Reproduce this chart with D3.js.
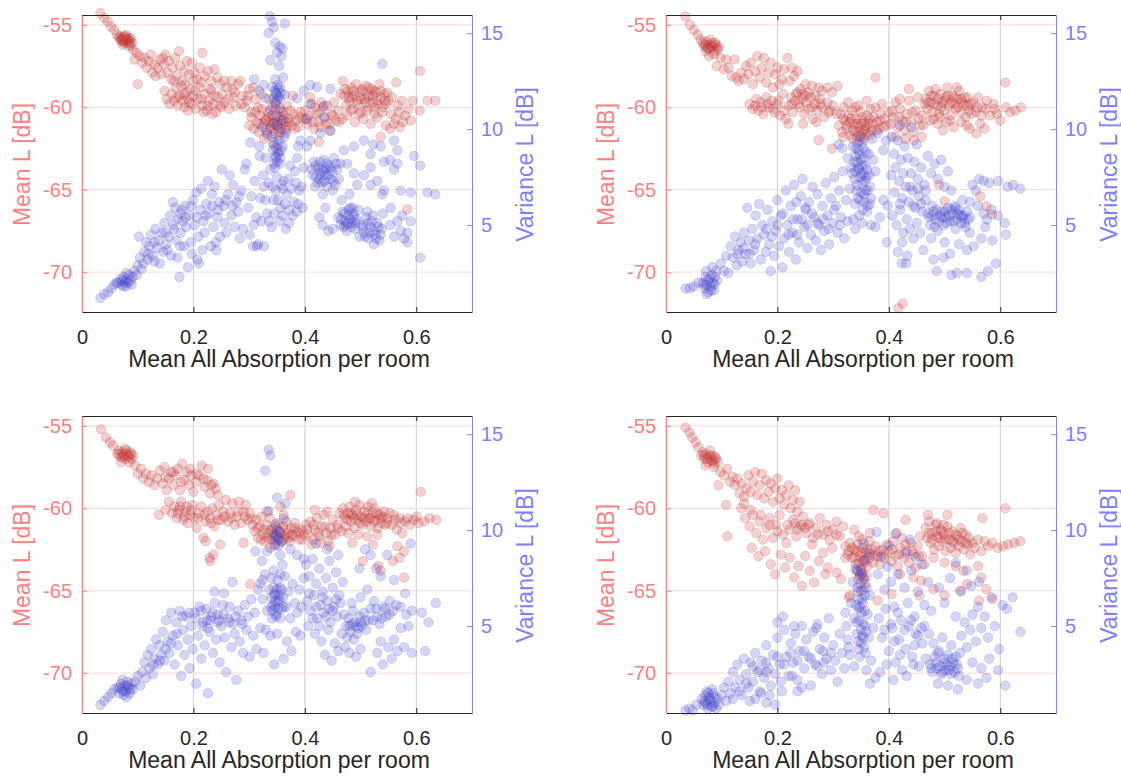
<!DOCTYPE html>
<html>
<head>
<meta charset="utf-8">
<script src="https://cdn.jsdelivr.net/npm/d3@7"></script>
<style>
body { margin: 0; background: #fff; }
text { font-family: "Liberation Sans", Arial, Helvetica, sans-serif; }
</style>
</head>
<body>
<div id="chart"></div>
<script>
var xTicks = [0, 0.2, 0.4, 0.6];
var meanTicks = [-70, -65, -60, -55];
var varTicks = [5, 10, 15];
var xLabel = "Mean All Absorption per room";
var meanLabel = "Mean L [dB]";
var varLabel = "Variance L [dB]";

// [absorption, mean L] and [absorption, variance L]
var p1Mean = [[0.033,-54.3],[0.040,-54.6],[0.046,-54.8],[0.052,-55.1],[0.058,-55.3],[0.063,-55.6],
[0.066,-55.8],[0.069,-55.7],[0.071,-56.0],[0.074,-55.8],[0.076,-56.1],[0.078,-55.7],[0.080,-55.9],[0.082,-56.1],[0.084,-55.8],[0.086,-56.0],[0.088,-55.8],[0.090,-56.1],[0.073,-56.2],[0.079,-55.6],[0.085,-56.3],[0.070,-55.9],
[0.092,-56.5],[0.098,-56.7],[0.094,-57.1],[0.104,-56.9],[0.108,-57.3],[0.100,-58.6],[0.112,-57.0],[0.116,-57.6],[0.120,-57.2],[0.124,-56.8],[0.126,-57.9],[0.130,-57.4],[0.132,-58.1],
[0.136,-57.6],[0.140,-57.1],[0.143,-58.0],[0.147,-57.4],[0.150,-56.8],[0.153,-57.9],[0.156,-57.2],[0.160,-58.3],[0.163,-57.6],[0.167,-57.0],[0.170,-58.1],[0.174,-56.6],[0.176,-57.5],[0.180,-58.4],[0.184,-57.8],[0.188,-57.2],[0.192,-58.0],[0.197,-57.3],[0.202,-57.9],[0.206,-58.3],[0.211,-57.6],[0.216,-56.7],[0.220,-58.1],[0.226,-57.8],[0.232,-58.4],[0.238,-57.7],[0.243,-58.2],[0.248,-58.6],
[0.148,-59.0],[0.152,-59.5],[0.157,-59.8],[0.161,-59.2],[0.165,-59.6],[0.168,-58.8],[0.172,-59.9],[0.175,-59.3],[0.178,-58.7],[0.181,-59.6],[0.184,-60.0],[0.187,-59.1],[0.190,-59.5],[0.194,-58.9],[0.197,-59.8],[0.200,-59.3],[0.204,-60.1],[0.208,-59.5],[0.212,-58.8],[0.216,-59.9],[0.220,-59.2],[0.224,-60.2],[0.228,-59.6],[0.232,-59.0],[0.236,-59.8],[0.240,-60.3],[0.244,-59.4],[0.248,-59.9],[0.252,-59.2],[0.256,-59.7],[0.260,-58.8],[0.264,-60.1],[0.268,-58.4],[0.272,-59.4],[0.276,-59.9],[0.280,-58.6],[0.284,-58.4],[0.288,-59.3],[0.292,-60.0],[0.296,-59.6],[0.300,-58.9],[0.304,-60.3],[0.308,-58.8],[0.312,-59.5],[0.316,-60.0],
[0.300,-61.1],[0.304,-60.6],[0.308,-61.3],[0.311,-60.3],[0.314,-60.9],[0.317,-61.5],[0.320,-60.5],[0.323,-60.1],[0.326,-61.0],[0.329,-60.7],[0.331,-61.4],[0.334,-60.3],[0.337,-60.9],[0.340,-61.2],[0.342,-60.5],[0.345,-61.6],[0.347,-60.1],[0.350,-60.9],[0.352,-61.3],[0.355,-60.6],[0.357,-60.2],[0.360,-61.0],[0.362,-60.5],[0.365,-61.4],[0.368,-59.9],[0.371,-60.7],[0.374,-60.2],[0.377,-61.1],[0.380,-60.4],[0.384,-60.8],[0.388,-61.2],[0.392,-60.3],[0.396,-60.7],[0.333,-61.7],[0.341,-60.0],[0.353,-61.7],[0.358,-60.8],[0.366,-60.9],[0.322,-59.2],[0.336,-59.5],[0.378,-59.3],[0.348,-59.8],[0.327,-61.9],[0.344,-62.3],
[0.400,-60.2],[0.404,-61.0],[0.408,-60.5],[0.412,-59.8],[0.416,-61.3],[0.420,-60.4],[0.424,-60.9],[0.428,-61.2],[0.432,-60.0],[0.436,-60.6],[0.440,-59.9],[0.444,-61.0],[0.448,-60.4],[0.452,-59.7],[0.456,-60.8],[0.460,-60.2],[0.464,-59.2],[0.467,-60.7],[0.410,-59.4],[0.430,-59.7],[0.445,-61.4],[0.425,-62.1],
[0.468,-58.4],[0.471,-59.3],[0.474,-59.9],[0.477,-59.0],[0.480,-59.6],[0.483,-58.8],[0.486,-60.1],[0.489,-59.3],[0.492,-58.6],[0.495,-59.8],[0.498,-59.1],[0.501,-60.3],[0.504,-59.0],[0.507,-59.5],[0.510,-58.7],[0.513,-60.0],[0.516,-59.3],[0.519,-58.9],[0.522,-59.7],[0.525,-60.4],[0.528,-59.1],[0.531,-59.8],[0.534,-58.6],[0.537,-59.4],[0.540,-60.0],[0.543,-59.2],[0.546,-59.8],[0.476,-60.5],[0.490,-60.9],[0.505,-60.7],[0.518,-61.0],[0.530,-60.6],[0.484,-59.4],[0.500,-59.5],[0.512,-59.4],[0.524,-59.0],
[0.550,-59.6],[0.555,-60.4],[0.560,-61.0],[0.564,-58.5],[0.567,-59.9],[0.571,-61.2],[0.575,-59.6],[0.580,-60.5],[0.586,-60.1],[0.594,-59.6],[0.606,-60.2],[0.607,-57.8],[0.620,-59.6],[0.634,-59.6],[0.553,-61.3],[0.584,-66.2],[0.536,-61.8],[0.545,-61.1],
[0.072,-55.9],[0.077,-56.0],[0.083,-55.9],[0.087,-56.2],[0.075,-55.7],
[0.171,-59.4],[0.183,-59.2],[0.192,-59.7],[0.203,-59.0],[0.214,-59.5],[0.226,-59.9],[0.238,-59.3],[0.250,-60.0],[0.262,-59.5],[0.274,-59.1],[0.286,-59.8],[0.298,-59.3],[0.234,-60.4],[0.218,-60.3],[0.190,-60.2],
[0.145,-57.0],[0.165,-58.4],[0.185,-58.6],[0.200,-58.4],[0.215,-58.5],[0.230,-58.9],[0.255,-58.4],[0.270,-58.9],
[0.318,-61.0],[0.330,-60.8],[0.338,-61.3],[0.346,-60.7],[0.351,-61.1],[0.356,-61.5],[0.361,-60.3],[0.367,-61.2],[0.372,-60.9],[0.382,-61.3],[0.390,-60.6],[0.343,-61.0],[0.335,-60.6],
[0.402,-60.7],[0.414,-60.9],[0.426,-60.3],[0.438,-61.0],[0.450,-60.5],[0.462,-60.9],[0.418,-60.0],
[0.472,-58.9],[0.479,-59.4],[0.487,-59.0],[0.494,-59.6],[0.502,-58.9],[0.509,-59.7],[0.515,-58.8],[0.522,-59.3],[0.529,-59.6],[0.536,-59.0],[0.543,-59.6],[0.483,-60.2],[0.497,-60.4],[0.511,-60.2],[0.525,-60.0],[0.539,-60.3],[0.548,-59.1],
[0.557,-59.4],[0.563,-60.7],[0.569,-60.3],[0.576,-60.9],[0.590,-60.8]];

var p1Var = [[0.033,1.2],[0.040,1.4],[0.047,1.5],[0.053,1.7],[0.058,1.9],[0.062,2.0],
[0.066,2.0],[0.069,2.2],[0.071,1.9],[0.073,2.1],[0.075,2.3],[0.077,2.0],[0.079,1.8],[0.081,2.2],[0.083,2.0],[0.085,2.4],[0.087,2.1],[0.089,1.9],[0.074,1.8],[0.080,2.5],[0.091,2.3],
[0.094,2.6],[0.098,2.4],[0.100,2.9],[0.104,3.3],[0.107,2.7],[0.110,3.0],[0.112,3.6],[0.115,4.1],[0.102,4.4],[0.118,3.2],[0.121,3.9],[0.124,4.5],[0.127,3.4],[0.130,3.1],[0.132,4.8],[0.135,3.8],[0.138,4.2],[0.140,3.0],[0.143,4.6],[0.146,3.6],[0.148,5.1],[0.151,4.0],[0.153,3.7],[0.156,4.4],[0.158,5.5],[0.160,3.4],[0.163,6.2],[0.165,4.8],[0.167,5.9],[0.169,4.2],[0.171,3.3],[0.173,5.3],[0.175,2.3],[0.177,4.6],[0.179,5.8],[0.181,5.2],[0.183,3.9],[0.185,6.0],[0.187,4.9],[0.190,2.8],[0.193,5.5],[0.195,4.1],[0.197,3.5],[0.199,6.3],[0.202,5.0],[0.205,6.7],[0.207,3.2],[0.209,4.4],[0.212,5.8],[0.214,6.9],[0.216,3.7],[0.218,5.2],[0.220,4.6],[0.223,6.1],[0.226,7.3],[0.228,5.6],[0.231,3.9],[0.233,6.6],[0.236,4.9],[0.238,7.0],[0.241,3.7],[0.243,5.4],[0.246,6.2],[0.248,4.4],[0.251,7.9],[0.254,6.0],[0.256,5.1],[0.259,4.6],[0.262,6.6],[0.265,7.6],[0.268,5.5],[0.271,7.1],[0.274,4.9],[0.277,6.2],[0.280,5.7],[0.283,4.3],[0.286,6.8],[0.289,4.8],[0.292,7.9],[0.295,8.2],[0.298,5.9],[0.301,4.5],[0.304,6.5],[0.307,3.9],[0.310,7.3],[0.313,5.4],[0.316,4.0],[0.319,8.6],
[0.337,15.9],[0.341,15.6],[0.344,15.3],[0.364,15.5],[0.335,15.0],[0.347,14.5],[0.355,14.3],[0.350,14.0],[0.360,14.2],[0.358,13.8],[0.338,13.6],[0.354,13.3],[0.347,12.6],[0.361,12.7],[0.341,12.2],[0.326,12.3],[0.309,12.6],[0.318,12.0],
[0.346,12.0],[0.349,11.8],[0.352,12.1],[0.355,11.6],[0.350,11.5],[0.357,11.9],[0.344,11.6],
[0.330,11.6],[0.364,11.8],[0.338,11.0],[0.356,11.1],[0.350,10.7],[0.362,10.5],[0.344,10.3],[0.332,9.8],[0.363,9.6],[0.366,9.8],[0.341,9.6],[0.324,10.1],[0.302,9.3],[0.318,9.1],
[0.343,8.9],[0.347,8.6],[0.350,8.3],[0.353,8.8],[0.356,8.5],[0.349,9.0],[0.345,8.2],[0.358,8.9],
[0.330,8.5],[0.325,7.6],[0.338,7.9],[0.350,7.5],[0.362,7.3],[0.374,8.1],[0.386,8.5],[0.398,8.0],[0.404,9.1],[0.392,9.4],[0.380,6.2],[0.372,5.8],[0.390,6.8],[0.368,6.6],[0.356,5.9],[0.344,6.3],[0.332,5.6],[0.320,6.4],[0.326,7.0],[0.340,4.9],[0.355,5.2],[0.366,4.8],[0.378,5.5],[0.314,3.9],[0.327,3.9],[0.308,5.0],[0.396,5.9],[0.384,7.2],[0.360,6.9],
[0.398,12.0],[0.410,12.3],[0.422,12.2],[0.446,12.1],[0.386,11.6],[0.410,11.3],[0.434,11.2],[0.404,10.5],[0.434,10.6],[0.446,9.9],[0.428,9.8],[0.410,9.4],[0.388,9.1],
[0.412,7.9],[0.416,8.3],[0.420,7.5],[0.424,8.0],[0.428,7.7],[0.431,7.2],[0.434,8.4],[0.437,7.6],[0.440,7.0],[0.443,8.1],[0.446,7.4],[0.449,7.8],[0.452,8.5],[0.455,7.1],[0.458,7.9],[0.461,7.4],[0.464,8.2],[0.426,7.4],[0.438,7.9],[0.418,7.0],[0.432,6.6],[0.450,6.8],
[0.470,8.9],[0.488,9.1],[0.518,8.7],[0.536,9.1],[0.560,9.4],[0.566,8.9],[0.553,8.4],[0.566,8.2],[0.560,7.9],[0.542,8.3],[0.518,8.0],[0.506,7.6],[0.488,7.7],[0.530,7.3],[0.518,7.1],[0.494,7.1],[0.542,6.8],[0.572,6.8],[0.590,6.7],[0.620,6.7],[0.634,6.6],[0.596,8.6],[0.607,8.1],[0.539,13.4],[0.523,9.2],[0.506,9.4],[0.476,8.2],[0.480,6.6],[0.466,6.3],
[0.460,5.4],[0.464,5.0],[0.468,5.7],[0.472,5.2],[0.475,4.7],[0.478,5.5],[0.481,5.9],[0.484,5.1],[0.487,5.6],[0.490,4.8],[0.493,5.3],[0.496,5.8],[0.470,4.9],[0.482,5.3],[0.450,4.8],[0.442,4.7],[0.432,5.0],[0.426,5.4],[0.437,5.9],
[0.502,5.0],[0.506,4.6],[0.510,5.4],[0.514,4.3],[0.518,4.9],[0.522,5.5],[0.526,4.5],[0.530,5.1],[0.534,4.2],[0.538,4.8],[0.512,5.7],[0.524,4.0],[0.498,4.4],[0.540,5.6],[0.539,6.6],[0.554,5.9],
[0.566,5.2],[0.572,4.7],[0.584,4.6],[0.590,5.2],[0.560,4.4],[0.584,4.1],[0.578,4.3],[0.607,3.3],[0.553,5.0],[0.575,5.5],
[0.348,11.9],[0.353,11.7],[0.351,12.3],[0.356,12.2],[0.347,11.4],[0.352,8.7],[0.355,8.2],[0.348,8.5],[0.351,9.2],[0.346,8.0],[0.354,9.4],[0.360,9.1],[0.343,9.3],[0.357,10.0],[0.349,10.2],
[0.335,7.2],[0.342,7.0],[0.348,6.8],[0.352,6.3],[0.358,7.1],[0.364,6.1],[0.370,7.4],[0.376,6.9],[0.382,7.8],[0.388,6.1],[0.394,7.0],[0.329,6.3],[0.322,5.2],[0.336,5.2],[0.345,5.6],[0.360,5.5],[0.372,5.1],[0.386,5.7],
[0.414,7.6],[0.419,8.1],[0.423,7.2],[0.427,8.3],[0.430,7.9],[0.435,7.3],[0.439,8.2],[0.442,7.6],[0.447,8.0],[0.451,7.3],[0.456,8.2],[0.433,7.8],
[0.465,5.3],[0.471,5.6],[0.474,5.0],[0.479,5.8],[0.483,4.9],[0.488,5.4],[0.491,5.1],[0.486,5.9],[0.477,5.1],
[0.504,4.9],[0.508,4.4],[0.512,5.1],[0.516,4.6],[0.520,5.2],[0.524,4.7],[0.528,4.3],[0.532,4.9],[0.536,4.5],
[0.164,5.0],[0.176,5.6],[0.186,5.4],[0.196,6.0],[0.206,5.4],[0.222,5.5],[0.234,6.0],[0.244,5.8],[0.258,6.3],[0.270,6.0],[0.282,6.5],[0.176,3.9],[0.150,4.6],[0.130,4.1],[0.119,3.5],[0.210,3.0],[0.240,4.1]];

var p2Mean = [[0.035,-54.5],[0.043,-55.0],[0.050,-55.3],[0.057,-55.6],[0.062,-55.9],
[0.066,-56.1],[0.069,-56.3],[0.072,-56.0],[0.074,-56.4],[0.077,-56.2],[0.079,-56.5],[0.082,-56.1],[0.084,-56.3],[0.087,-56.6],[0.089,-56.2],[0.092,-56.4],[0.095,-56.3],[0.071,-56.6],[0.080,-55.9],[0.086,-56.8],
[0.077,-56.9],[0.091,-57.5],[0.098,-57.0],[0.104,-57.7],[0.108,-57.1],[0.112,-57.6],[0.118,-58.1],[0.123,-57.1],[0.126,-58.2],[0.130,-58.4],[0.135,-57.9],
[0.140,-58.3],[0.144,-57.5],[0.148,-58.0],[0.152,-57.3],[0.156,-58.6],[0.160,-57.8],[0.164,-56.9],[0.168,-58.2],[0.172,-57.6],[0.176,-57.0],[0.180,-58.5],[0.184,-57.9],[0.188,-57.3],[0.192,-58.8],[0.196,-58.0],[0.200,-57.6],[0.204,-58.6],[0.208,-58.3],[0.212,-57.7],[0.218,-57.0],[0.222,-58.4],[0.226,-57.6],[0.230,-58.1],[0.236,-57.8],[0.242,-58.9],[0.250,-58.6],[0.256,-59.1],[0.262,-58.7],[0.268,-59.3],[0.274,-58.8],[0.280,-59.0],[0.290,-58.8],[0.298,-59.1],[0.308,-58.7],
[0.150,-59.8],[0.156,-60.1],[0.162,-59.5],[0.166,-60.2],[0.170,-59.7],[0.175,-60.4],[0.180,-59.4],[0.185,-60.0],[0.190,-59.6],[0.195,-60.3],[0.200,-59.8],[0.205,-60.5],[0.210,-59.2],[0.215,-60.7],[0.220,-59.9],[0.225,-59.4],[0.228,-60.3],[0.232,-59.6],[0.236,-59.1],[0.240,-60.0],[0.244,-59.5],[0.248,-60.4],[0.252,-59.7],[0.256,-60.1],[0.260,-59.4],[0.264,-60.7],[0.268,-59.8],[0.272,-60.2],[0.276,-59.5],[0.280,-60.0],[0.284,-60.6],[0.290,-59.7],[0.295,-60.2],[0.300,-59.9],[0.220,-61.0],[0.246,-61.0],[0.270,-60.9],[0.306,-60.4],
[0.310,-61.1],[0.313,-60.4],[0.316,-61.5],[0.319,-60.0],[0.322,-60.8],[0.325,-61.3],[0.328,-60.5],[0.331,-61.7],[0.334,-60.2],[0.337,-61.0],[0.340,-61.5],[0.343,-60.7],[0.346,-61.2],[0.349,-60.3],[0.352,-61.6],[0.355,-60.9],[0.358,-61.3],[0.361,-60.5],[0.364,-61.0],[0.367,-60.1],[0.370,-61.4],[0.373,-60.6],[0.376,-60.0],[0.379,-60.9],[0.382,-61.3],[0.385,-60.4],[0.388,-59.8],[0.392,-60.7],[0.396,-61.1],[0.335,-61.9],[0.348,-62.0],[0.327,-59.7],[0.345,-59.9],[0.360,-59.6],[0.376,-58.2],[0.318,-61.8],[0.355,-61.9],[0.340,-60.0],[0.366,-61.7],[0.352,-60.6],
[0.400,-60.3],[0.404,-61.0],[0.408,-60.6],[0.412,-59.7],[0.416,-61.2],[0.420,-60.1],[0.424,-60.8],[0.428,-61.4],[0.432,-60.4],[0.436,-59.6],[0.440,-60.9],[0.444,-61.5],[0.448,-60.2],[0.452,-59.4],[0.456,-61.1],[0.460,-60.5],[0.464,-59.8],[0.459,-61.8],[0.445,-62.0],[0.430,-61.9],[0.420,-59.5],[0.412,-61.8],[0.436,-58.9],
[0.466,-59.5],[0.469,-60.1],[0.472,-59.0],[0.475,-59.7],[0.478,-60.3],[0.481,-59.3],[0.484,-58.9],[0.487,-59.9],[0.490,-60.4],[0.493,-59.2],[0.496,-59.7],[0.499,-60.2],[0.502,-59.4],[0.505,-58.8],[0.508,-59.9],[0.511,-60.5],[0.514,-59.3],[0.517,-59.8],[0.520,-60.1],[0.523,-59.5],[0.526,-59.0],[0.529,-60.3],[0.532,-59.7],[0.535,-59.9],[0.538,-60.6],[0.541,-59.4],[0.544,-60.2],[0.547,-59.8],[0.474,-60.8],[0.488,-61.0],[0.503,-60.9],[0.516,-61.2],[0.530,-60.9],[0.545,-61.3],[0.497,-61.4],[0.480,-60.7],[0.522,-58.8],
[0.552,-59.7],[0.556,-60.3],[0.560,-59.4],[0.564,-61.0],[0.568,-60.0],[0.572,-61.3],[0.576,-59.6],[0.582,-60.5],[0.588,-59.8],[0.594,-60.4],[0.600,-60.8],[0.609,-58.5],[0.610,-60.0],[0.618,-60.3],[0.627,-60.2],[0.637,-60.0],[0.575,-66.0],[0.585,-66.5],[0.564,-65.4],[0.490,-64.7],[0.500,-65.7],[0.417,-72.2],[0.425,-71.9],[0.298,-62.5],[0.274,-62.0],[0.540,-61.1],[0.557,-61.6],
[0.070,-56.2],[0.076,-56.4],[0.081,-56.3],[0.088,-56.1],[0.093,-56.5],
[0.160,-59.9],[0.172,-60.0],[0.182,-59.8],[0.192,-60.1],[0.202,-59.6],[0.212,-60.2],[0.226,-59.8],[0.238,-59.8],[0.250,-59.3],[0.262,-60.0],[0.278,-59.8],[0.292,-60.3],[0.234,-59.2],[0.246,-59.2],
[0.318,-60.7],[0.324,-61.1],[0.330,-60.9],[0.336,-61.4],[0.342,-61.0],[0.347,-61.5],[0.351,-61.0],[0.356,-61.4],[0.360,-61.1],[0.365,-60.7],[0.371,-61.0],[0.378,-61.4],[0.384,-60.8],[0.390,-61.2],[0.333,-60.7],[0.344,-61.8],[0.362,-61.6],
[0.406,-60.2],[0.418,-60.6],[0.430,-60.9],[0.442,-60.3],[0.454,-60.7],[0.462,-61.1],
[0.470,-59.7],[0.476,-59.3],[0.482,-59.8],[0.488,-59.5],[0.494,-60.0],[0.500,-59.6],[0.506,-59.3],[0.512,-59.7],[0.518,-59.4],[0.524,-60.0],[0.530,-59.5],[0.536,-59.4],[0.542,-59.9],[0.548,-60.4],[0.492,-60.6],[0.510,-60.8],
[0.558,-60.0],[0.566,-60.5],[0.574,-60.1],[0.590,-60.1]];

var p2Var = [[0.035,1.7],[0.043,1.7],[0.050,1.8],[0.058,2.0],
[0.066,2.0],[0.069,1.7],[0.071,2.3],[0.074,1.9],[0.076,1.5],[0.078,2.2],[0.080,1.8],[0.082,2.4],[0.084,2.0],[0.086,1.6],[0.088,2.3],[0.090,2.6],[0.092,2.1],[0.073,1.4],[0.083,2.8],[0.072,2.6],
[0.098,3.0],[0.104,2.6],[0.108,3.4],[0.112,2.5],[0.116,3.9],[0.120,3.3],[0.124,4.4],[0.127,2.9],[0.130,3.7],[0.134,4.1],[0.137,3.1],[0.140,4.6],[0.143,3.5],[0.146,5.9],[0.149,4.2],[0.152,3.0],[0.155,4.8],[0.158,3.7],[0.161,5.5],[0.164,4.3],[0.167,6.1],[0.170,3.2],[0.173,5.0],[0.176,4.5],[0.179,3.6],[0.182,5.8],[0.185,4.0],[0.188,2.6],[0.191,5.2],[0.194,3.4],[0.197,4.7],[0.200,6.3],[0.203,3.9],[0.206,5.5],[0.209,2.8],[0.212,4.3],[0.215,6.8],[0.218,5.0],[0.221,3.6],[0.224,6.0],[0.227,4.6],[0.230,7.1],[0.233,3.2],[0.236,5.3],[0.239,4.1],[0.242,6.5],[0.245,7.4],[0.248,4.9],[0.251,5.8],[0.254,3.8],[0.257,6.2],[0.260,4.5],[0.263,7.0],[0.266,5.4],[0.269,4.2],[0.272,6.6],[0.275,5.0],[0.278,3.7],[0.281,6.0],[0.284,4.7],[0.287,7.2],[0.290,5.5],[0.293,4.0],[0.296,6.4],[0.299,5.1],[0.302,7.5],[0.305,6.0],[0.308,4.6],[0.311,6.8],[0.314,5.4],[0.317,7.8],[0.320,4.3],[0.323,6.3],[0.326,5.2],[0.234,6.2],[0.250,5.9],
[0.332,8.0],[0.335,9.1],[0.338,7.4],[0.340,8.6],[0.342,6.8],[0.344,9.3],[0.346,7.9],[0.348,6.3],[0.350,8.4],[0.352,7.2],[0.354,9.0],[0.356,6.6],[0.358,8.1],[0.360,7.5],[0.362,6.0],[0.364,8.7],[0.366,7.0],[0.368,6.4],[0.345,8.0],[0.351,7.7],[0.357,7.3],[0.343,7.1],[0.355,8.5],[0.349,9.6],[0.361,5.7],[0.339,6.1],[0.347,5.5],[0.334,7.7],[0.330,6.9],[0.326,8.5],[0.316,9.0],[0.310,9.2],[0.372,8.4],[0.376,7.8],[0.370,9.5],[0.380,9.8],[0.368,5.0],[0.352,5.1],[0.336,5.3],[0.340,4.8],[0.376,4.9],[0.384,5.4],[0.390,6.3],[0.398,6.0],
[0.405,9.6],[0.410,8.7],[0.416,9.4],[0.422,8.4],[0.428,9.1],[0.434,8.5],[0.440,7.7],[0.446,8.3],[0.452,7.4],[0.458,8.0],[0.464,7.1],[0.470,8.6],[0.476,7.7],[0.482,8.2],[0.488,7.4],[0.494,8.4],[0.500,7.0],[0.506,7.8],[0.512,6.8],[0.404,7.6],[0.410,6.7],[0.418,7.3],[0.424,6.4],[0.430,7.0],[0.436,6.2],[0.442,6.8],[0.448,5.9],[0.454,6.5],[0.460,5.7],[0.466,6.3],[0.472,5.4],[0.478,6.0],[0.406,5.5],[0.414,5.0],[0.420,5.8],[0.426,4.6],[0.432,5.3],[0.438,4.8],[0.444,4.3],[0.450,5.1],[0.456,4.6],[0.462,3.7],[0.390,8.9],[0.395,9.4],[0.420,10.2],[0.440,10.1],[0.450,9.2],[0.396,4.1],[0.416,3.6],[0.424,4.1],[0.433,3.4],
[0.470,5.6],[0.474,5.0],[0.478,5.5],[0.482,4.9],[0.486,5.8],[0.490,5.2],[0.494,5.7],[0.498,5.0],[0.502,5.4],[0.506,5.9],[0.510,5.2],[0.514,5.6],[0.518,6.0],[0.522,5.3],[0.526,5.8],[0.530,5.1],[0.534,5.5],[0.538,4.9],[0.542,5.3],[0.480,5.7],[0.496,5.4],[0.512,5.8],[0.528,5.5],[0.488,4.7],[0.520,4.8],[0.476,4.3],[0.500,4.1],[0.532,6.3],
[0.546,6.2],[0.550,7.1],[0.556,6.8],[0.562,7.4],[0.570,7.3],[0.580,7.2],[0.596,7.3],[0.613,7.0],[0.623,7.1],[0.636,6.9],[0.560,6.0],[0.570,5.6],[0.576,5.3],[0.584,5.8],[0.596,5.5],[0.608,5.1],[0.610,4.5],[0.586,4.2],[0.566,4.3],[0.552,3.9],[0.540,3.7],[0.526,4.0],[0.510,3.5],[0.498,3.3],[0.480,3.2],[0.512,2.4],[0.522,2.5],[0.540,2.5],[0.566,2.3],[0.578,2.6],[0.592,3.0],[0.486,2.6],[0.423,3.0],[0.431,3.0],[0.573,4.9],[0.545,4.6],
[0.068,1.9],[0.075,2.1],[0.081,1.6],[0.087,1.9],
[0.340,7.8],[0.343,8.3],[0.346,8.9],[0.349,7.5],[0.352,8.1],[0.355,7.6],[0.358,6.8],[0.361,7.9],[0.350,6.7],[0.344,6.4],[0.356,6.2],[0.347,8.7],[0.353,9.3],[0.341,9.0],[0.359,8.8],[0.362,6.8],[0.365,7.6],[0.338,8.3],[0.366,6.1],[0.353,5.8],
[0.180,4.8],[0.190,4.4],[0.200,5.0],[0.210,5.6],[0.220,4.5],[0.228,5.3],[0.236,4.5],[0.244,5.3],[0.254,5.0],[0.262,5.6],[0.272,5.1],[0.282,5.3],[0.292,4.8],[0.302,5.8],[0.312,5.0],[0.160,4.0],[0.150,3.5],[0.140,3.8],[0.128,3.5],
[0.484,5.3],[0.492,5.5],[0.500,5.7],[0.508,5.5],[0.516,5.2],[0.524,5.6],[0.532,5.4],[0.540,5.7],[0.504,5.1],[0.520,5.9],[0.536,5.1],[0.546,5.4],
[0.412,8.0],[0.426,7.7],[0.438,7.0],[0.452,6.9],[0.466,6.8],[0.420,6.1],[0.444,6.0],[0.458,6.1]];

var p3Mean = [[0.034,-55.2],[0.043,-55.7],[0.050,-56.0],[0.056,-56.2],
[0.063,-56.7],[0.066,-56.5],[0.069,-56.9],[0.072,-56.6],[0.075,-56.8],[0.078,-57.0],[0.080,-56.5],[0.083,-56.8],[0.086,-56.6],[0.089,-57.0],[0.092,-56.8],[0.070,-57.2],[0.077,-56.4],[0.085,-57.2],
[0.095,-57.4],[0.100,-57.9],[0.106,-57.6],[0.110,-58.2],[0.115,-57.9],[0.120,-58.4],[0.125,-58.0],[0.130,-58.6],[0.135,-58.2],[0.140,-57.7],[0.145,-58.5],[0.148,-57.5],[0.152,-58.9],[0.156,-58.2],[0.160,-57.8],[0.164,-58.6],[0.168,-58.0],[0.172,-57.6],[0.176,-58.9],[0.180,-57.3],[0.184,-58.3],[0.188,-57.8],[0.192,-58.6],[0.196,-58.0],[0.200,-59.0],[0.205,-58.4],[0.210,-58.0],[0.215,-57.4],[0.220,-58.7],[0.225,-58.3],[0.230,-59.1],[0.236,-58.5],[0.240,-58.8],[0.244,-59.2],[0.226,-57.6],
[0.138,-60.4],[0.150,-60.1],[0.156,-59.6],[0.162,-60.3],[0.166,-59.9],[0.170,-60.6],[0.174,-60.1],[0.178,-59.6],[0.182,-60.7],[0.186,-60.2],[0.190,-60.9],[0.194,-60.4],[0.198,-59.8],[0.202,-60.6],[0.206,-61.2],[0.210,-60.3],[0.214,-59.9],[0.218,-61.8],[0.222,-60.8],[0.226,-60.2],[0.230,-60.6],[0.234,-60.0],[0.238,-61.1],[0.242,-60.4],[0.246,-59.8],[0.250,-60.7],[0.254,-60.2],[0.258,-59.5],[0.262,-60.8],[0.266,-60.3],[0.270,-59.7],[0.274,-61.0],[0.278,-60.5],[0.282,-59.6],[0.286,-60.9],[0.290,-60.2],[0.294,-59.8],[0.298,-60.7],[0.302,-60.3],[0.306,-61.0],[0.222,-62.0],[0.229,-63.0],[0.236,-62.8],[0.230,-63.2],[0.248,-62.2],[0.302,-64.6],[0.290,-62.1],
[0.310,-61.4],[0.313,-60.7],[0.316,-61.8],[0.319,-61.1],[0.322,-60.5],[0.325,-61.6],[0.328,-62.0],[0.331,-61.0],[0.334,-61.5],[0.337,-60.6],[0.340,-61.9],[0.343,-61.2],[0.346,-62.2],[0.349,-61.6],[0.352,-60.9],[0.355,-61.4],[0.358,-62.0],[0.361,-61.1],[0.364,-61.7],[0.367,-60.8],[0.370,-61.5],[0.373,-62.0],[0.376,-61.2],[0.379,-61.7],[0.382,-60.9],[0.386,-61.4],[0.390,-61.9],[0.394,-61.3],[0.398,-61.6],[0.332,-60.2],[0.362,-60.4],[0.374,-59.2],[0.356,-59.9],[0.338,-62.4],
[0.402,-61.0],[0.406,-61.6],[0.410,-60.8],[0.414,-61.9],[0.418,-61.3],[0.422,-60.6],[0.426,-61.7],[0.430,-61.1],[0.434,-60.4],[0.438,-61.5],[0.442,-62.0],[0.446,-61.2],[0.450,-60.7],[0.454,-61.6],[0.458,-61.0],[0.462,-60.3],[0.466,-61.4],[0.412,-62.2],[0.428,-62.1],[0.444,-62.3],[0.418,-60.1],[0.440,-60.2],
[0.468,-60.0],[0.471,-60.6],[0.474,-61.1],[0.477,-60.3],[0.480,-59.9],[0.483,-60.8],[0.486,-60.4],[0.489,-61.2],[0.492,-60.1],[0.495,-60.7],[0.498,-59.8],[0.501,-60.5],[0.504,-61.0],[0.507,-60.2],[0.510,-60.8],[0.513,-59.9],[0.516,-60.6],[0.519,-61.1],[0.522,-60.3],[0.525,-60.0],[0.528,-60.7],[0.531,-61.2],[0.534,-60.4],[0.537,-60.9],[0.540,-60.5],[0.544,-61.0],[0.548,-60.6],[0.478,-61.5],[0.496,-61.6],[0.512,-61.7],[0.530,-61.6],[0.485,-62.1],[0.522,-62.2],
[0.552,-60.3],[0.556,-61.0],[0.560,-60.4],[0.565,-61.3],[0.570,-60.6],[0.575,-61.5],[0.580,-60.8],[0.588,-61.0],[0.596,-60.7],[0.604,-60.9],[0.614,-60.8],[0.624,-60.6],[0.636,-60.7],[0.608,-59.0],[0.566,-62.3],[0.578,-62.6],[0.558,-63.2],[0.570,-63.0],[0.532,-63.5],[0.536,-63.8],[0.504,-63.2],[0.578,-64.2],
[0.067,-56.7],[0.073,-56.9],[0.079,-56.7],[0.084,-56.9],[0.088,-56.7],
[0.172,-60.3],[0.184,-60.5],[0.196,-60.1],[0.208,-60.6],[0.220,-60.4],[0.232,-60.9],[0.244,-60.7],[0.256,-60.5],[0.268,-60.6],[0.280,-60.2],[0.292,-60.5],[0.304,-60.6],[0.176,-59.9],[0.188,-59.9],
[0.150,-58.1],[0.164,-57.8],[0.178,-58.4],[0.194,-57.6],[0.206,-57.9],[0.218,-58.2],[0.232,-58.6],
[0.315,-61.2],[0.321,-61.9],[0.327,-61.3],[0.333,-61.8],[0.339,-61.3],[0.344,-61.7],[0.348,-61.1],[0.353,-61.8],[0.357,-61.5],[0.362,-61.9],[0.366,-61.3],[0.371,-61.8],[0.377,-61.6],[0.383,-61.2],[0.389,-61.5],[0.395,-61.9],
[0.404,-61.3],[0.416,-61.0],[0.424,-61.5],[0.436,-61.1],[0.448,-61.6],[0.460,-61.2],
[0.470,-60.4],[0.476,-60.7],[0.482,-60.3],[0.488,-60.6],[0.494,-60.4],[0.500,-60.9],[0.506,-60.6],[0.512,-60.3],[0.518,-60.6],[0.524,-60.8],[0.530,-60.3],[0.536,-60.6],[0.542,-60.2],[0.547,-60.9],[0.490,-59.6],[0.520,-59.7],
[0.562,-60.7],[0.572,-60.9],[0.584,-60.6],[0.600,-60.5]];

var p3Var = [[0.033,0.9],[0.040,1.1],[0.047,1.3],[0.053,1.5],[0.058,1.7],
[0.064,1.8],[0.067,1.5],[0.070,2.0],[0.072,1.7],[0.075,1.4],[0.077,1.9],[0.079,1.6],[0.082,2.1],[0.084,1.8],[0.086,1.5],[0.089,2.0],[0.091,1.7],[0.073,2.2],[0.080,1.3],
[0.096,2.1],[0.100,2.4],[0.105,1.9],[0.108,2.6],[0.112,3.1],[0.115,2.3],[0.118,3.5],[0.121,2.8],[0.124,3.8],[0.127,2.5],[0.130,3.3],[0.133,4.3],[0.136,3.0],[0.139,4.0],[0.142,3.5],[0.145,4.7],[0.148,3.2],[0.151,5.3],[0.154,4.2],[0.157,3.6],[0.160,5.7],[0.163,4.5],[0.166,3.0],[0.169,5.2],[0.172,4.0],[0.175,5.8],[0.178,2.4],[0.181,4.8],[0.184,3.5],[0.187,5.5],[0.190,4.3],[0.193,2.8],[0.196,5.0],[0.199,3.8],[0.202,5.7],[0.205,2.0],[0.208,4.5],[0.211,6.0],[0.214,3.3],[0.217,5.2],[0.220,4.0],[0.223,5.9],[0.226,1.5],[0.229,4.7],[0.232,5.5],[0.235,3.6],[0.238,6.2],[0.241,4.3],[0.244,5.6],[0.247,3.1],[0.250,5.0],[0.253,6.1],[0.256,4.4],[0.259,2.6],[0.262,5.4],[0.265,6.0],[0.268,3.9],[0.271,5.1],[0.274,4.6],[0.277,2.2],[0.280,5.8],[0.283,4.2],[0.286,5.3],[0.289,3.6],[0.292,6.1],[0.295,4.8],[0.298,5.5],[0.301,3.4],[0.304,6.4],[0.307,4.5],[0.310,5.7],[0.313,3.8],[0.316,6.9],[0.320,4.9],[0.324,7.4],[0.270,7.3],[0.238,6.8],[0.255,6.7],[0.216,5.0],[0.230,5.3],[0.246,5.3],[0.226,4.9],
[0.335,14.2],[0.338,13.9],[0.329,13.1],[0.350,11.7],[0.365,11.4],[0.335,11.0],[0.347,10.3],[0.350,10.0],[0.353,9.2],[0.347,9.5],[0.359,9.4],[0.344,9.8],[0.356,8.7],[0.332,8.9],[0.323,8.4],[0.311,8.9],[0.374,9.0],[0.386,8.7],[0.398,8.5],[0.362,10.6],
[0.320,7.2],[0.324,6.4],[0.328,7.7],[0.332,5.8],[0.336,6.9],[0.340,7.5],[0.343,6.1],[0.346,6.7],[0.349,5.6],[0.352,6.3],[0.355,7.0],[0.358,5.9],[0.361,6.5],[0.364,7.6],[0.367,6.0],[0.370,6.8],[0.374,5.4],[0.378,7.2],[0.382,6.2],[0.386,5.7],[0.390,6.9],[0.394,6.0],[0.398,7.5],[0.347,6.0],[0.353,6.6],[0.341,5.4],[0.356,7.7],[0.344,7.9],[0.360,8.2],[0.330,4.8],[0.338,4.5],[0.350,4.6],[0.368,4.2],[0.384,4.7],[0.326,3.6],[0.345,3.0],[0.362,3.3],[0.376,3.7],[0.392,4.5],
[0.402,8.2],[0.408,7.6],[0.414,8.5],[0.420,7.2],[0.426,8.0],[0.432,6.8],[0.438,7.5],[0.444,8.4],[0.450,7.0],[0.456,7.8],[0.462,6.6],[0.468,7.3],[0.404,6.3],[0.410,5.8],[0.416,6.6],[0.422,5.4],[0.428,6.1],[0.434,5.7],[0.440,6.3],[0.446,5.2],[0.452,6.0],[0.458,5.5],[0.464,6.2],[0.406,5.0],[0.418,4.6],[0.430,4.2],[0.442,4.8],[0.454,4.1],[0.466,4.6],[0.436,3.5],[0.448,3.2],[0.460,3.7],[0.420,9.3],[0.440,9.0],[0.460,8.7],
[0.470,5.6],[0.474,5.0],[0.478,5.4],[0.482,4.7],[0.486,5.8],[0.490,5.2],[0.494,4.6],[0.498,5.5],[0.502,5.0],[0.506,5.7],[0.510,4.8],[0.514,5.3],[0.518,5.9],[0.476,4.4],[0.488,4.3],[0.472,3.9],[0.480,3.6],[0.492,3.4],[0.500,3.8],[0.484,6.2],[0.500,6.5],[0.512,6.9],[0.524,6.3],
[0.522,5.3],[0.528,5.9],[0.534,5.1],[0.540,6.0],[0.546,5.5],[0.552,6.3],[0.558,5.8],[0.564,6.1],[0.572,6.0],[0.582,5.6],[0.592,5.8],[0.610,5.7],[0.622,5.2],[0.635,6.2],[0.586,5.0],[0.572,4.9],[0.560,4.3],[0.550,3.9],[0.536,4.2],[0.530,3.6],[0.556,3.3],[0.566,3.7],[0.578,3.9],[0.592,3.6],[0.616,3.7],[0.518,2.6],[0.540,3.0],[0.536,7.6],[0.528,8.0],[0.518,8.7],[0.508,9.0],[0.560,7.4],[0.580,6.7],[0.590,9.3],[0.548,8.7],[0.498,8.0],
[0.068,1.8],[0.074,1.6],[0.081,1.9],[0.087,1.7],
[0.340,6.5],[0.344,7.0],[0.347,6.3],[0.350,6.9],[0.352,5.9],[0.355,6.4],[0.348,5.5],[0.358,6.9],[0.345,6.6],[0.351,7.4],[0.339,6.0],[0.362,6.0],[0.356,5.4],[0.342,5.8],
[0.349,9.7],[0.352,9.5],[0.355,9.9],[0.346,9.2],
[0.180,5.5],[0.192,5.7],[0.204,5.4],[0.214,5.8],[0.224,5.3],[0.234,5.7],[0.244,5.2],[0.254,5.6],[0.264,5.2],[0.276,5.5],[0.288,5.1],[0.170,4.6],[0.160,4.1],[0.150,3.8],[0.140,3.2],[0.128,3.0],
[0.408,6.7],[0.420,6.0],[0.432,6.5],[0.444,5.9],[0.456,6.4],[0.414,5.4],[0.426,5.0],[0.438,5.5],[0.450,5.8],
[0.484,5.1],[0.492,5.0],[0.500,5.2],[0.508,5.3],[0.496,4.9],[0.480,5.0],
[0.530,5.5],[0.538,5.4],[0.544,5.9],[0.552,5.6]];

var p4Mean = [[0.035,-55.1],[0.042,-55.4],[0.047,-55.7],[0.053,-56.0],[0.058,-56.3],
[0.063,-56.8],[0.066,-56.6],[0.069,-57.0],[0.072,-56.7],[0.075,-57.2],[0.078,-56.9],[0.081,-57.1],[0.084,-56.8],[0.087,-57.3],[0.090,-57.0],[0.093,-57.2],[0.071,-57.4],[0.079,-56.5],[0.086,-57.5],
[0.098,-57.8],[0.104,-58.0],[0.110,-57.6],[0.115,-58.4],[0.120,-58.1],[0.124,-58.6],[0.094,-58.6],[0.108,-59.8],[0.128,-58.2],[0.132,-59.1],[0.136,-58.5],[0.140,-59.3],[0.144,-58.8],[0.148,-58.0],[0.152,-59.0],[0.156,-58.4],[0.160,-57.8],[0.164,-59.2],[0.168,-58.6],[0.172,-57.9],[0.176,-59.4],[0.180,-58.3],[0.184,-59.0],[0.188,-58.5],[0.192,-59.6],[0.196,-58.8],[0.200,-58.2],[0.204,-59.4],[0.208,-58.9],[0.212,-59.8],[0.216,-59.2],[0.220,-58.6],[0.224,-60.0],[0.228,-59.5],[0.232,-58.9],[0.236,-60.2],[0.240,-59.6],[0.110,-61.7],
[0.135,-60.0],[0.142,-60.6],[0.150,-61.1],[0.156,-60.4],[0.162,-61.5],[0.168,-60.8],[0.174,-61.9],[0.180,-61.2],[0.186,-60.6],[0.192,-61.8],[0.198,-61.0],[0.204,-60.4],[0.210,-61.6],[0.216,-62.1],[0.222,-61.3],[0.228,-60.7],[0.234,-61.7],[0.240,-61.1],[0.246,-60.5],[0.252,-61.5],[0.258,-60.9],[0.264,-61.8],[0.270,-61.2],[0.276,-60.6],[0.282,-61.6],[0.288,-61.0],[0.294,-61.9],[0.300,-61.3],[0.306,-60.8],[0.312,-61.7],[0.318,-61.1],[0.244,-61.0],[0.250,-61.2],[0.232,-60.9],
[0.154,-62.4],[0.166,-62.9],[0.178,-62.6],[0.188,-63.4],[0.196,-64.0],[0.206,-62.8],[0.214,-63.6],[0.222,-63.0],[0.230,-64.2],[0.238,-63.5],[0.244,-64.7],[0.250,-62.9],[0.258,-63.8],[0.266,-64.5],[0.274,-63.2],[0.282,-62.7],[0.290,-63.6],[0.298,-62.4],[0.306,-63.9],[0.314,-64.3],[0.322,-63.0],[0.328,-65.4],[0.262,-62.2],[0.286,-64.0],
[0.322,-62.3],[0.326,-62.8],[0.330,-62.1],[0.334,-63.0],[0.338,-62.5],[0.341,-63.4],[0.344,-62.2],[0.347,-62.9],[0.350,-63.6],[0.353,-62.4],[0.356,-63.1],[0.359,-62.7],[0.362,-63.5],[0.365,-62.0],[0.368,-62.8],[0.372,-63.3],[0.376,-62.3],[0.380,-62.9],[0.384,-63.4],[0.388,-62.5],[0.392,-63.0],[0.396,-62.2],[0.348,-64.0],[0.355,-64.3],[0.342,-63.8],[0.360,-64.1],[0.352,-61.9],[0.366,-61.5],[0.346,-61.7],[0.372,-60.1],[0.390,-60.3],[0.338,-61.3],
[0.400,-62.6],[0.404,-63.2],[0.408,-62.0],[0.412,-62.9],[0.416,-63.5],[0.420,-62.4],[0.424,-61.8],[0.428,-63.0],[0.432,-62.6],[0.436,-63.3],[0.440,-62.1],[0.444,-62.8],[0.448,-63.6],[0.452,-62.3],[0.456,-61.7],[0.460,-62.9],[0.464,-63.4],[0.414,-61.5],[0.430,-60.7],[0.444,-64.2],[0.420,-64.0],[0.458,-64.4],
[0.466,-61.2],[0.469,-61.8],[0.472,-60.8],[0.475,-62.1],[0.478,-61.5],[0.481,-62.5],[0.484,-61.0],[0.487,-61.7],[0.490,-62.3],[0.493,-61.3],[0.496,-62.0],[0.499,-61.6],[0.502,-62.6],[0.505,-61.1],[0.508,-61.9],[0.511,-62.4],[0.514,-61.4],[0.517,-62.1],[0.520,-62.7],[0.523,-61.7],[0.526,-62.3],[0.529,-61.2],[0.532,-62.0],[0.535,-62.5],[0.538,-61.6],[0.542,-62.2],[0.546,-62.8],[0.550,-62.1],[0.470,-60.4],[0.505,-60.4],[0.480,-63.0],[0.500,-63.3],[0.520,-63.5],[0.534,-63.8],
[0.554,-62.4],[0.560,-61.9],[0.566,-62.6],[0.572,-62.0],[0.578,-62.3],[0.586,-62.1],[0.595,-62.4],[0.605,-62.3],[0.614,-62.2],[0.625,-62.1],[0.636,-62.0],[0.609,-60.0],[0.568,-60.6],[0.560,-63.5],[0.566,-64.2],[0.575,-64.9],[0.562,-65.6],[0.586,-65.5],[0.540,-64.6],[0.528,-65.0],[0.500,-65.3],[0.480,-64.9],[0.455,-65.3],[0.405,-65.2],[0.380,-65.6],[0.330,-65.3],
[0.068,-56.8],[0.074,-57.0],[0.080,-56.8],[0.085,-57.1],[0.089,-56.9],
[0.328,-62.6],[0.334,-62.4],[0.339,-63.0],[0.343,-62.6],[0.347,-63.3],[0.351,-62.7],[0.354,-63.2],[0.358,-63.3],[0.361,-62.5],[0.364,-63.0],[0.369,-62.5],[0.374,-62.9],[0.382,-62.6],[0.390,-62.8],[0.352,-63.9],[0.345,-64.3],[0.358,-64.6],[0.350,-65.0],
[0.406,-62.5],[0.418,-62.8],[0.430,-62.2],[0.442,-62.6],[0.454,-62.9],
[0.472,-61.5],[0.478,-61.9],[0.484,-61.4],[0.490,-61.8],[0.496,-61.4],[0.502,-61.9],[0.508,-61.5],[0.514,-62.0],[0.520,-61.6],[0.526,-61.9],[0.532,-61.5],[0.538,-62.1],[0.544,-61.8],[0.486,-60.9],[0.498,-61.0],
[0.140,-59.7],[0.152,-60.1],[0.170,-60.4],[0.186,-61.0],[0.200,-61.4],[0.218,-61.0],[0.236,-61.3],[0.256,-61.0],[0.272,-61.6],[0.290,-61.4],[0.306,-61.6]];

var p4Var = [[0.035,0.6],[0.042,0.7],[0.048,0.6],[0.055,0.9],
[0.064,1.2],[0.067,0.9],[0.070,1.4],[0.072,1.0],[0.075,0.7],[0.077,1.3],[0.080,1.1],[0.082,0.8],[0.085,1.5],[0.087,1.0],[0.090,0.7],[0.092,1.2],[0.095,0.9],[0.073,1.6],[0.083,1.7],
[0.100,1.4],[0.104,1.8],[0.108,1.1],[0.112,2.1],[0.116,1.5],[0.120,2.6],[0.124,1.8],[0.128,3.0],[0.132,2.2],[0.136,1.4],[0.140,3.3],[0.144,2.5],[0.148,1.8],[0.152,3.1],[0.156,2.1],[0.160,3.6],[0.164,2.6],[0.168,1.6],[0.172,3.2],[0.176,2.3],[0.180,4.0],[0.184,2.8],[0.188,1.9],[0.192,3.5],[0.196,2.5],[0.200,4.4],[0.204,3.0],[0.208,1.6],[0.212,4.8],[0.216,3.4],[0.220,2.4],[0.224,4.1],[0.228,3.1],[0.232,4.6],[0.236,2.2],[0.240,3.7],[0.244,5.0],[0.248,2.8],[0.252,4.3],[0.256,3.4],[0.260,1.9],[0.264,4.7],[0.268,3.0],[0.272,5.1],[0.276,3.8],[0.280,2.5],[0.284,4.4],[0.288,3.3],[0.292,5.4],[0.296,2.7],[0.300,4.0],[0.304,3.2],[0.308,2.1],[0.312,4.6],[0.316,3.6],[0.320,2.8],[0.324,5.0],[0.328,3.9],[0.200,5.2],[0.210,5.5],[0.230,5.0],[0.180,2.6],[0.186,1.4],[0.196,0.9],[0.236,1.6],[0.244,1.8],[0.160,1.2],[0.180,1.0],[0.206,2.1],[0.226,2.4],[0.270,4.9],[0.282,3.7],
[0.332,6.2],[0.335,7.3],[0.338,5.4],[0.340,8.0],[0.342,4.6],[0.344,6.8],[0.346,5.9],[0.348,7.6],[0.350,4.1],[0.352,6.4],[0.354,5.1],[0.356,8.4],[0.358,3.6],[0.360,7.0],[0.362,5.6],[0.364,4.4],[0.366,6.6],[0.368,3.2],[0.346,3.8],[0.350,7.9],[0.354,6.9],[0.342,5.2],[0.358,5.0],[0.352,4.5],[0.348,3.4],[0.360,2.7],[0.338,2.9],[0.326,4.3],[0.322,5.7],[0.330,3.5],[0.364,8.8],[0.355,9.3],[0.376,2.3],[0.372,4.9],[0.366,2.0],
[0.380,7.7],[0.386,8.6],[0.392,6.9],[0.398,8.1],[0.404,7.3],[0.410,6.0],[0.416,7.7],[0.422,5.3],[0.428,7.0],[0.434,6.2],[0.440,7.9],[0.446,5.5],[0.452,6.8],[0.458,4.9],[0.464,6.1],[0.470,7.3],[0.476,5.8],[0.382,5.4],[0.388,4.4],[0.394,5.9],[0.400,3.7],[0.406,4.9],[0.412,3.1],[0.418,4.3],[0.424,2.7],[0.430,3.8],[0.436,5.0],[0.442,3.4],[0.448,4.6],[0.454,2.9],[0.460,4.1],[0.466,3.3],[0.472,4.6],[0.384,2.6],[0.396,3.0],[0.408,2.2],[0.420,3.5],[0.432,2.4],[0.444,3.0],[0.378,9.9],[0.400,9.2],[0.438,9.5],[0.448,8.6],[0.430,8.8],[0.460,8.2],[0.412,9.8],
[0.474,3.0],[0.478,2.6],[0.482,3.4],[0.486,2.8],[0.490,3.7],[0.494,2.5],[0.498,3.1],[0.502,2.7],[0.506,3.5],[0.510,2.9],[0.514,3.3],[0.518,2.6],[0.522,3.0],[0.526,2.4],[0.480,4.1],[0.496,4.4],[0.512,4.0],[0.528,3.6],[0.488,2.0],[0.506,1.9],[0.524,1.7],
[0.530,4.5],[0.536,5.2],[0.540,3.9],[0.546,4.8],[0.550,5.6],[0.556,4.2],[0.560,6.0],[0.566,4.9],[0.572,5.5],[0.578,4.4],[0.584,6.5],[0.590,5.0],[0.598,3.8],[0.604,6.1],[0.612,5.9],[0.622,6.5],[0.636,4.7],[0.550,3.1],[0.566,2.8],[0.580,3.3],[0.596,2.7],[0.609,1.9],[0.530,6.8],[0.548,7.1],[0.562,7.3],[0.540,2.2],[0.520,5.5],[0.500,6.2],[0.490,7.0],[0.510,7.5],[0.540,7.9],[0.520,8.3],[0.560,2.0],[0.575,2.3],
[0.069,1.1],[0.074,0.9],[0.079,1.2],[0.084,0.8],[0.088,1.3],[0.076,1.5],
[0.343,7.0],[0.346,6.4],[0.349,7.2],[0.351,5.7],[0.353,6.2],[0.355,7.5],[0.357,5.8],[0.347,5.3],[0.350,4.8],[0.354,4.4],[0.345,4.2],[0.356,3.9],[0.359,4.7],[0.348,6.0],[0.352,7.7],[0.344,7.9],[0.357,6.6],[0.341,6.1],
[0.200,3.4],[0.212,3.0],[0.224,3.6],[0.236,3.2],[0.248,3.7],[0.260,3.3],[0.272,2.9],[0.284,3.1],[0.296,3.6],[0.180,3.1],[0.168,2.7],[0.156,2.9],[0.144,2.0],[0.132,1.6],[0.120,1.2],[0.150,1.1],[0.170,1.5],
[0.476,2.8],[0.484,3.1],[0.492,2.9],[0.500,3.3],[0.508,2.7],[0.516,3.1],[0.524,2.8],[0.488,3.6],[0.504,3.0],[0.520,3.4],[0.512,2.5],[0.496,2.6],
[0.404,5.1],[0.416,5.7],[0.428,4.8],[0.440,5.3],[0.452,4.5],[0.464,5.0],[0.392,4.8],[0.410,4.2],[0.446,4.0]];

var panels = [
    {left: 82, top: 15, mean: p1Mean, variance: p1Var},
    {left: 666, top: 15, mean: p2Mean, variance: p2Var},
    {left: 82, top: 416, mean: p3Mean, variance: p3Var},
    {left: 666, top: 416, mean: p4Mean, variance: p4Var}
];

var width = 390;
var height = 297;
var red = "#ff8080";
var blue = "#8080ff";
var dark = "#262626";

var x = d3.scaleLinear().domain([0, 0.7]).range([0, width]);
var yMean = d3.scaleLinear().domain([-72.42, -54.4]).range([height, 0]);
var yVar = d3.scaleLinear().domain([0.47, 15.95]).range([height, 0]);

var svg = d3.select("#chart")
    .append("svg")
    .attr("width", 1121)
    .attr("height", 778)
    .style("background", "#fff");

function styleAxis(g, color, size) {
    g.attr("font-size", size).attr("font-family", null);
    g.select(".domain").attr("stroke", color).attr("stroke-width", 1);
    g.selectAll(".tick line").attr("stroke", color);
    g.selectAll(".tick text").attr("fill", color);
}

function drawPanel(p) {
    var g = svg.append("g").attr("transform", "translate(" + p.left + "," + p.top + ")");

    g.selectAll(".vgrid")
        .data(xTicks)
        .enter()
        .append("line")
        .attr("x1", function(d) { return x(d); })
        .attr("x2", function(d) { return x(d); })
        .attr("y1", 0)
        .attr("y2", height)
        .attr("stroke", "#cccccc")
        .attr("stroke-width", 1);

    g.selectAll(".hgrid")
        .data(meanTicks)
        .enter()
        .append("line")
        .attr("x1", 0)
        .attr("x2", width)
        .attr("y1", function(d) { return yMean(d); })
        .attr("y2", function(d) { return yMean(d); })
        .attr("stroke", "#ffd9d9")
        .attr("stroke-width", 1);

    g.append("g").selectAll("circle")
        .data(p.mean)
        .enter()
        .append("circle")
        .attr("cx", function(d) { return x(d[0]); })
        .attr("cy", function(d) { return yMean(d[1]); })
        .attr("r", 4.8)
        .attr("fill", "rgb(222,62,62)")
        .attr("fill-opacity", 0.25)
        .attr("stroke", "#000")
        .attr("stroke-opacity", 0.14)
        .attr("stroke-width", 0.8);

    g.append("g").selectAll("circle")
        .data(p.variance)
        .enter()
        .append("circle")
        .attr("cx", function(d) { return x(d[0]); })
        .attr("cy", function(d) { return yVar(d[1]); })
        .attr("r", 4.8)
        .attr("fill", "rgb(72,72,232)")
        .attr("fill-opacity", 0.23)
        .attr("stroke", "#000")
        .attr("stroke-opacity", 0.14)
        .attr("stroke-width", 0.8);

    var top = g.append("g")
        .call(d3.axisTop(x).tickValues(xTicks).tickSize(-5).tickSizeOuter(0).tickFormat(""));
    styleAxis(top, dark, 20);

    var bottom = g.append("g")
        .attr("transform", "translate(0," + height + ")")
        .call(d3.axisBottom(x).tickValues(xTicks).tickSize(-5).tickSizeOuter(0).tickPadding(18)
            .tickFormat(function(d) { return String(d); }));
    styleAxis(bottom, dark, 20);

    var left = g.append("g")
        .call(d3.axisLeft(yMean).tickValues(meanTicks).tickSize(-5).tickSizeOuter(0).tickPadding(10)
            .tickFormat(function(d) { return String(d); }));
    styleAxis(left, red, 20);

    var right = g.append("g")
        .attr("transform", "translate(" + width + ",0)")
        .call(d3.axisRight(yVar).tickValues(varTicks).tickSize(-5).tickSizeOuter(0).tickPadding(9)
            .tickFormat(function(d) { return String(d); }));
    styleAxis(right, blue, 20);

    g.append("text")
        .attr("x", width / 2 + 2)
        .attr("y", height + 55)
        .attr("text-anchor", "middle")
        .attr("fill", dark)
        .style("font-size", "23px")
        .text(xLabel);

    g.append("text")
        .attr("transform", "translate(-52," + (height / 2 + 1) + ") rotate(-90)")
        .attr("text-anchor", "middle")
        .attr("fill", red)
        .style("font-size", "23px")
        .text(meanLabel);

    g.append("text")
        .attr("transform", "translate(" + (width + 61) + "," + (height / 2 + 1) + ") rotate(-90)")
        .attr("text-anchor", "middle")
        .attr("fill", blue)
        .style("font-size", "23px")
        .text(varLabel);
}

panels.forEach(function(p) { drawPanel(p); });
</script>
</body>
</html>
